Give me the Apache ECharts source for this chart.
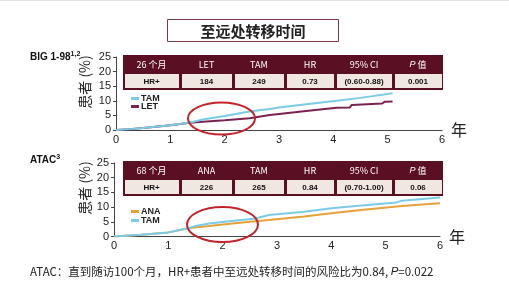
<!DOCTYPE html>
<html>
<head>
<meta charset="utf-8">
<script src="https://cdn.jsdelivr.net/npm/echarts@6/dist/echarts.min.js"></script>
<style>
html,body{margin:0;padding:0;background:#fff;}
#c{width:509px;height:283px;}
</style>
</head>
<body>
<div id="c"></div>
<script>
// ---- data ----
const title = '至远处转移时间';
const xTicks = [0, 1, 2, 3, 4, 5, 6];
const yTicks = [0, 5, 10, 15, 20, 25];

// BIG 1-98 (years, % patients)
const bigTAM = [[0,0],[0.25,0.3],[0.5,0.7],[1,1.6],[1.36,2.6],[1.6,3.6],[2,4.8],[2.46,6.3],[2.83,7.2],[3,7.7],[3.5,8.8],[4.06,10.0],[4.5,11.0],[5.09,12.6]];
const bigLET = [[0,0],[0.25,0.3],[0.5,0.7],[1,1.6],[1.36,2.5],[1.6,2.8],[2,3.3],[2.46,4.0],[2.83,5.1],[3,5.5],[3.5,6.5],[4.06,7.6],[4.3,7.7],[4.34,8.6],[4.9,9.1],[4.95,9.7],[5.09,9.8]];
// ATAC
const atacANA = [[0,0],[0.5,0.6],[1,1.4],[1.39,2.9],[1.75,3.6],[2,4.1],[2.6,5.2],[2.85,5.6],[3.5,6.8],[4,7.9],[4.5,8.9],[5.3,10.4],[6,11.3]];
const atacTAM = [[0,0],[0.5,0.6],[1,1.4],[1.39,2.9],[1.5,3.6],[1.75,4.4],[2,4.9],[2.6,6.1],[2.85,7.3],[3.5,8.4],[4,9.6],[4.5,10.5],[5.2,11.6],[5.3,12.2],[6,13.3]];

const bigHeader = ['26 个月', 'LET', 'TAM', 'HR', '95% CI', 'P 值'];
const bigRow = ['HR+', '184', '249', '0.73', '(0.60-0.88)', '0.001'];
const atacHeader = ['68 个月', 'ANA', 'TAM', 'HR', '95% CI', 'P 值'];
const atacRow = ['HR+', '226', '265', '0.84', '(0.70-1.00)', '0.06'];

const noteText = 'ATAC：直到随访100个月，HR+患者中至远处转移时间的风险比为0.84, ';
const notePText = '=0.022';

// ---- styles ----
const FONT = 'Liberation Sans, Arial, "Noto Sans CJK SC", sans-serif';
const CJK = '"Noto Sans CJK SC", "Liberation Sans", sans-serif';
const C_TAM = '#7ccbe6', C_LET = '#7b2350', C_ANA = '#e6a13a';
const MAROON = '#5a0f22', CELL = '#f1e7e1';
const colEdges = [123, 180, 233, 285, 335, 393, 443];

function table(top, header, row) {
  const els = [];
  els.push({type:'rect', shape:{x:colEdges[0], y:top, width:colEdges[6]-colEdges[0], height:35}, style:{fill:MAROON}});
  for (let i = 0; i < 6; i++) {
    const x0 = colEdges[i], x1 = colEdges[i+1];
    els.push({type:'rect', shape:{x:x0+2, y:top+19, width:x1-x0-3, height:14}, style:{fill:CELL}});
    const isP = header[i].indexOf('P ') === 0;
    els.push({type:'text', x:(x0+x1)/2, y:top+9.5, style:{
      text: isP ? '{i|P} 值' : header[i],
      rich: {i:{fontStyle:'italic', fontSize:9, fill:'#fff', fontFamily:FONT}},
      fill:'#fff', fontSize:9, fontFamily:CJK, align:'center', verticalAlign:'middle'}});
    els.push({type:'text', x:(x0+x1)/2, y:top+26.5, style:{
      text: row[i], fill:'#111', fontSize:8, fontWeight:'bold', fontFamily:FONT, align:'center', verticalAlign:'middle'}});
  }
  return els;
}

function xAxisCfg(gi) {
  return {
    type:'value', gridIndex:gi, min:xTicks[0], max:xTicks[xTicks.length-1], interval:1,
    axisLine:{show:true, onZero:false, lineStyle:{color:'#444', width:1}},
    axisTick:{show:false}, splitLine:{show:false},
    axisLabel:{color:'#222', fontSize:11, fontFamily:FONT, margin:4},
    name:'年', nameLocation:'end', nameGap:9,
    nameTextStyle:{fontSize:16, color:'#222', fontFamily:CJK, padding:[23,0,0,0]}
  };
}
function yAxisCfg(gi) {
  return {
    type:'value', gridIndex:gi, min:yTicks[0], max:yTicks[yTicks.length-1], interval:5,
    axisLine:{show:true, lineStyle:{color:'#444', width:1}},
    axisTick:{show:true, length:3, lineStyle:{color:'#444'}}, splitLine:{show:false},
    axisLabel:{color:'#222', fontSize:11, fontFamily:FONT, margin:5}
  };
}
function lineSeries(name, data, color, xi, z) {
  return {type:'line', name:name, data:data, xAxisIndex:xi, yAxisIndex:xi, showSymbol:false, symbol:'none',
    lineStyle:{color:color, width:2}, itemStyle:{color:color}, z:z, animation:false};
}

const chart = echarts.init(document.getElementById('c'), null, {renderer:'canvas'});
chart.setOption({
  animation:false,
  backgroundColor:'#fff',
  grid:[
    {left:116, top:57, width:326, height:73},
    {left:114, top:163, width:326, height:73.5}
  ],
  xAxis:[xAxisCfg(0), xAxisCfg(1)],
  yAxis:[yAxisCfg(0), yAxisCfg(1)],
  legend:[
    {data:['TAM','LET'], orient:'vertical', left:126, top:89, itemWidth:8, itemHeight:3, itemGap:-1, icon:'rect',
      textStyle:{fontSize:9, fontWeight:'bold', color:'#222', fontFamily:FONT, lineHeight:9, padding:[0,0,0,-3]}, selectedMode:false},
    {data:['ANA','TAM'], orient:'vertical', left:126, top:202, itemWidth:8, itemHeight:3, itemGap:0, icon:'rect',
      textStyle:{fontSize:9, fontWeight:'bold', color:'#222', fontFamily:FONT, lineHeight:9, padding:[0,0,0,-3]}, selectedMode:false}
  ],
  series:[
    lineSeries('LET', bigLET, C_LET, 0, 2),
    lineSeries('TAM', bigTAM, C_TAM, 0, 3),
    lineSeries('ANA', atacANA, C_ANA, 1, 2),
    lineSeries('TAM', atacTAM, C_TAM, 1, 3)
  ],
  graphic:[
    {type:'line', shape:{x1:0,y1:0.5,x2:509,y2:0.5}, style:{stroke:'#e2e2e2', lineWidth:1}},
    {type:'rect', shape:{x:167.5, y:19.5, width:171, height:22}, style:{fill:'#fff', stroke:'#7a3a48', lineWidth:1}},
    {type:'text', x:253, y:31, style:{text:title, fontSize:15, fontWeight:'bold', fontFamily:CJK, fill:'#222', align:'center', verticalAlign:'middle'}},
    {type:'text', x:30, y:57, style:{text:'BIG 1-98{s|1,2}', rich:{s:{fontSize:7, verticalAlign:'top', padding:[0,0,5,0], fontFamily:FONT, fontWeight:'bold', fill:'#111'}},
      fontSize:10, fontWeight:'bold', fontFamily:FONT, fill:'#111', verticalAlign:'middle'}},
    {type:'text', x:30, y:160, style:{text:'ATAC{s|3}', rich:{s:{fontSize:7, padding:[0,0,5,0], fontFamily:FONT, fontWeight:'bold', fill:'#111'}},
      fontSize:10, fontWeight:'bold', fontFamily:FONT, fill:'#111', verticalAlign:'middle'}},
    {type:'text', x:85, y:82, rotation:Math.PI/2, style:{text:'患者 (%)', fontSize:14, fontFamily:CJK, fill:'#222', align:'center', verticalAlign:'middle'}},
    {type:'text', x:85, y:188, rotation:Math.PI/2, style:{text:'患者 (%)', fontSize:14, fontFamily:CJK, fill:'#222', align:'center', verticalAlign:'middle'}},
    ...table(55, bigHeader, bigRow),
    ...table(161, atacHeader, atacRow),
    {type:'ellipse', shape:{cx:221.5, cy:118.5, rx:33.5, ry:16}, style:{fill:'none', stroke:'#c3242c', lineWidth:2}, z:10},
    {type:'ellipse', shape:{cx:222.5, cy:224.5, rx:35.5, ry:17.5}, style:{fill:'none', stroke:'#c3242c', lineWidth:2}, z:10},
    {type:'text', x:30, y:272, style:{text:noteText + '{i|P}' + notePText, rich:{i:{fontStyle:'italic', fontSize:11.5, fontFamily:FONT, fill:'#222'}},
      fontSize:11.5, fontFamily:CJK, fill:'#222', verticalAlign:'middle'}}
  ]
});
</script>
</body>
</html>
